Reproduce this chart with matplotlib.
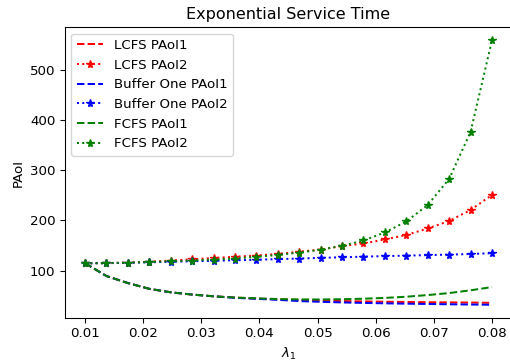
import numpy as np
import matplotlib
matplotlib.use("Agg")
import matplotlib.pyplot as plt

# arrival rate lambda_1, 20 points from 0.01 to 0.08
lam = [0.01, 0.01368, 0.01737, 0.02105, 0.02474, 0.02842, 0.03211, 0.03579, 0.03947, 0.04316,
       0.04684, 0.05053, 0.05421, 0.05789, 0.06158, 0.06526, 0.06895, 0.07263, 0.07632, 0.08]

lcfs_paoi1 = [114.7, 89, 75, 63.5, 56.5, 52, 48.5, 46, 44, 42.5,
              41, 40, 39, 38.3, 37.7, 37.2, 36.7, 36.3, 36, 35.5]
lcfs_paoi2 = [114.5, 114.8, 116, 117.5, 120, 122.5, 125, 127.5, 130, 133,
              137.5, 142, 149, 154, 162, 171, 184, 199, 221, 251]
buf_paoi1 = [114.7, 89, 75, 63.5, 56.5, 52, 48.5, 45.5, 43.5, 41.5,
             39, 37.5, 36.3, 35.3, 34.5, 33.8, 33.2, 32.6, 32.1, 31.6]
buf_paoi2 = [114.5, 114.7, 115.5, 116.5, 117.5, 118.5, 119.5, 120.5, 121.5, 122.8,
             124, 125.3, 126.5, 127.7, 128.8, 129.8, 130.8, 131.8, 133, 134.7]
fcfs_paoi1 = [114.7, 89, 75, 63.5, 56.5, 52, 48.5, 46, 44.5, 43,
              42.3, 42.2, 42.7, 43.7, 45.3, 47.7, 51, 55, 60.5, 67]
fcfs_paoi2 = [114.5, 114.7, 115.8, 117, 118.5, 120, 122, 124, 127.5, 131,
              136, 141.5, 149.5, 160, 176, 198, 231, 283, 377, 560]

fig = plt.figure(figsize=(510 / 96, 361 / 96), dpi=96)
# right edge of the axes runs just past the picture, as in the original
ax = fig.add_axes([0.1268, 0.1191, 0.8778, 0.8061])

ax.plot(lam, lcfs_paoi1, 'r--', label='LCFS PAoI1')
ax.plot(lam, lcfs_paoi2, 'r:*', label='LCFS PAoI2')
ax.plot(lam, buf_paoi1, 'b--', label='Buffer One PAoI1')
ax.plot(lam, buf_paoi2, 'b:*', label='Buffer One PAoI2')
ax.plot(lam, fcfs_paoi1, 'g--', label='FCFS PAoI1')
ax.plot(lam, fcfs_paoi2, 'g:*', label='FCFS PAoI2')

ax.set_title('Exponential Service Time')
ax.set_xlabel(r'$\lambda_1$')
ax.set_ylabel('PAoI')
ax.legend(loc='upper left')

fig.savefig('out.png', dpi=96)
